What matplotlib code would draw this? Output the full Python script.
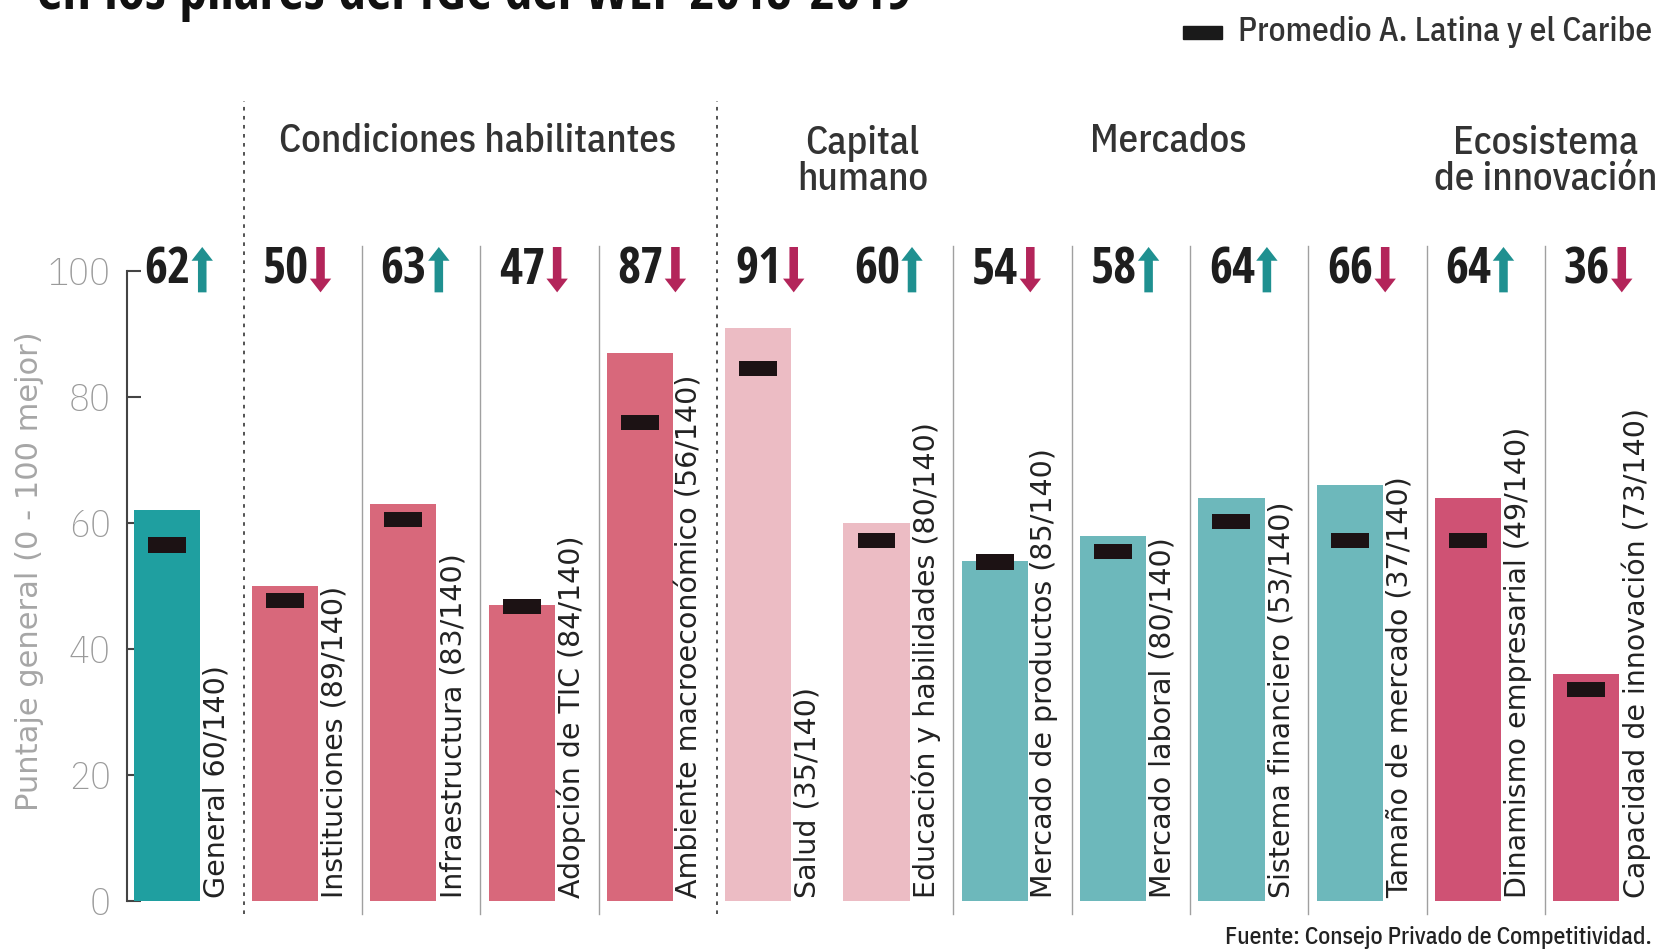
import matplotlib

matplotlib.use("Agg")
import matplotlib.pyplot as plt  # noqa: E402

CONDENSED_BOLD = ["Open Sans Condensed", "DejaVu Sans"]
CONDENSED = ["IBM Plex Sans Condensed", "DejaVu Sans"]
WIDE = ["DejaVu Sans"]

LABELS = [
    "General 60/140)",
    "Instituciones (89/140)",
    "Infraestructura (83/140)",
    "Adopción de TIC (84/140)",
    "Ambiente macroeconómico (56/140)",
    "Salud (35/140)",
    "Educación y habilidades (80/140)",
    "Mercado de productos (85/140)",
    "Mercado laboral (80/140)",
    "Sistema financiero (53/140)",
    "Tamaño de mercado (37/140)",
    "Dinamismo empresarial (49/140)",
    "Capacidad de innovación (73/140)",
]
SCORES = [62, 50, 63, 47, 87, 91, 60, 54, 58, 64, 66, 64, 36]
LATAM_AVG = [56.5, 47.7, 60.5, 46.7, 76, 84.5, 57.2, 53.8, 55.5, 60.2, 57.2, 57.2, 33.6]
TREND = ["up", "down", "up", "down", "down", "down", "up", "down", "up", "up", "down", "up", "down"]
GROUP = ["general", "cond", "cond", "cond", "cond", "capital", "capital",
         "merc", "merc", "merc", "merc", "eco", "eco"]

GROUP_COLORS = {
    "general": "#1f9fa0",
    "cond": "#d8687b",
    "capital": "#ecbcc4",
    "merc": "#6db8bb",
    "eco": "#cf5274",
}
ARROW_COLORS = {"up": "#1f9090", "down": "#b3255a"}

HEADERS = [
    ("Condiciones habilitantes", 2.63, 120.6),
    ("Capital\nhumano", 5.88, 117.4),
    ("Mercados", 8.47, 120.6),
    ("Ecosistema\nde innovación", 11.66, 117.4),
]
DOTTED_SEPARATORS = [0.65, 4.65]
SOLID_SEPARATORS = [1.65, 2.65, 3.65, 6.65, 7.65, 8.65, 9.65, 10.65, 11.65]


def main():
    fig = plt.figure(figsize=(16.62, 9.52), dpi=100)
    ax = fig.add_axes([0.0767, 0.0536, 0.9233, 0.6618])

    xs = list(range(len(SCORES)))
    colors = [GROUP_COLORS[g] for g in GROUP]
    ax.bar(xs, SCORES, width=0.56, color=colors, zorder=2)
    ax.bar(xs, [2.4] * len(xs), bottom=[v - 1.2 for v in LATAM_AVG],
           width=0.32, color="#1c1214", zorder=3)

    for x, label in zip(xs, LABELS):
        ax.text(x + 0.42, 0.4, label, rotation=90, ha="center", va="bottom",
                fontsize=20.5, color="#222222", family=WIDE, zorder=4)

    for x, score, trend in zip(xs, SCORES, TREND):
        ax.text(x + 0.2, 100, str(score), ha="right", va="center",
                fontsize=36, fontweight="bold", color="#1e1e1e",
                family=CONDENSED_BOLD, clip_on=False)
        if trend == "up":
            start, end = 96.6, 103.8
        else:
            start, end = 103.8, 96.6
        ax.annotate("", xy=(x + 0.3, end), xytext=(x + 0.3, start),
                    arrowprops=dict(arrowstyle="simple,head_length=0.45,head_width=0.7,tail_width=0.28",
                                    color=ARROW_COLORS[trend], lw=0,
                                    mutation_scale=22, shrinkA=0, shrinkB=0),
                    annotation_clip=False)

    for text, x, y in HEADERS:
        ax.text(x, y, text, ha="center", va="center", fontsize=28,
                fontweight="medium", color="#333333", family=CONDENSED,
                linespacing=0.95, clip_on=False)

    for x in DOTTED_SEPARATORS:
        ax.plot([x, x], [-2, 127], color="#444444", lw=1.3,
                linestyle=(0, (2, 3)), clip_on=False, zorder=1)
    for x in SOLID_SEPARATORS:
        ax.plot([x, x], [-2, 104], color="#a0a0a0", lw=1.0,
                clip_on=False, zorder=1)

    ax.set_xlim(-0.332, 12.64)
    ax.set_ylim(0, 100)
    for side in ["top", "right", "bottom"]:
        ax.spines[side].set_visible(False)
    ax.spines["left"].set_color("#444444")
    ax.spines["left"].set_linewidth(1.5)
    ax.spines["left"].set_bounds(0, 100)
    ax.set_xticks([])
    ax.set_yticks([0, 20, 40, 60, 80, 100])
    ax.set_yticks([80, 100], minor=True)
    ax.tick_params(axis="y", which="major", direction="in", length=10,
                   width=1.5, color="#444444", labelcolor="#9a9a9a",
                   labelsize=28, pad=12)
    ax.tick_params(axis="y", which="minor", direction="in", length=26,
                   width=1.5, color="#444444")
    for tick in ax.get_yticklabels():
        tick.set_family(CONDENSED)
        tick.set_fontweight("light")
    ax.patch.set_alpha(0)

    fig.text(0.0179, 0.3996, "Puntaje general (0 - 100 mejor)", rotation=90,
             ha="center", va="center", fontsize=22, color="#a6a6a6",
             family=WIDE)

    fig.text(0.0224, 0.991, "en los pilares del IGC del WEF 2018-2019",
             ha="left", va="baseline", fontsize=40, fontweight="bold",
             color="#111111", family=CONDENSED_BOLD)

    fig.patches.append(plt.Rectangle((0.7117, 0.9587), 0.0236, 0.0143,
                                     transform=fig.transFigure,
                                     color="#1a1a1a", figure=fig))
    fig.text(0.745, 0.9665, "Promedio A. Latina y el Caribe", ha="left",
             va="center", fontsize=24, fontweight="medium", color="#333333",
             family=CONDENSED)

    fig.text(0.994, 0.008, "Fuente: Consejo Privado de Competitividad.",
             ha="right", va="baseline", fontsize=17, fontweight="medium",
             color="#222222", family=CONDENSED)

    fig.savefig("out.png", dpi=100, facecolor="white")
    plt.close(fig)


if __name__ == "__main__":
    main()
